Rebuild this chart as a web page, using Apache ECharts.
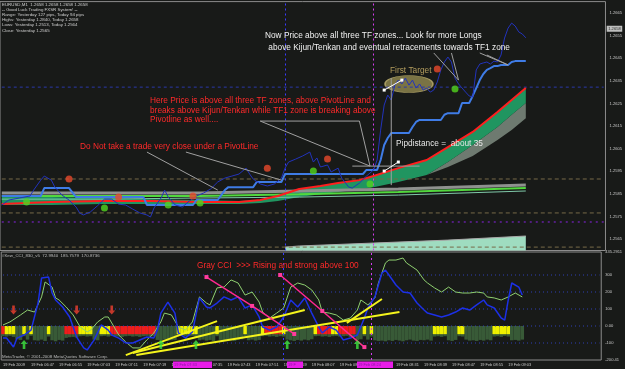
<!DOCTYPE html>
<html><head><meta charset="utf-8">
<script src="https://cdn.jsdelivr.net/npm/echarts@6/dist/echarts.min.js"></script>
<style>html,body{margin:0;padding:0;background:#181a18;}#c{width:625px;height:369px;}</style>
</head><body><div id="c"></div>
<script>
const FONT = '"Liberation Sans", Arial, sans-serif';

// ---------- categories (M1 bars from 06:39) ----------
const firstBar = '06:39';
const barCount = 171;
const categories = [];
(function(){const p=firstBar.split(':');let m=+p[0]*60+ +p[1];for(let k=0;k<barCount;k++,m++){categories.push(String(Math.floor(m/60)).padStart(2,'0')+':'+String(m%60).padStart(2,'0'));}})();
const firstTickLabel = '19 Feb 2009';
const tickPrefix = '19 Feb ';

// ---------- top panel (price) ----------
const priceLine = [[0,1.25801],[2,1.25823],[5,1.25832],[8,1.25841],[9,1.25867],[11,1.25911],[12,1.25929],[14,1.25911],[15,1.2588],[17,1.25845],[19,1.25823],[21,1.25792],[22,1.25766],[23,1.25757],[25,1.2577],[27,1.25797],[29,1.25827],[31,1.25827],[33,1.25805],[35,1.25801],[37,1.25783],[39,1.25766],[41,1.25757],[42,1.25748],[43,1.25788],[45,1.25832],[46,1.25867],[47,1.25836],[49,1.25801],[51,1.25792],[53,1.25819],[55,1.25841],[57,1.25854],[59,1.25872],[61,1.25903],[63,1.2592],[65,1.25929],[67,1.25938],[69,1.25964],[70,1.25938],[71,1.25916],[73,1.25894],[75,1.25885],[77,1.25894],[79,1.2592],[80,1.25964],[81,1.25991],[83,1.26004],[85,1.26018],[87,1.26035],[88,1.25991],[89,1.26009],[90,1.25969],[92,1.25978],[93,1.25947],[95,1.25964],[96,1.2592],[98,1.2588],[99,1.25876],[101,1.25898],[103,1.25929],[105,1.25956],[106,1.26],[107,1.26132],[108,1.26243],[109,1.26287],[110,1.26265],[111,1.26331],[112,1.26353],[113,1.26336],[114,1.26362],[115,1.26331],[116,1.26353],[117,1.26318],[118,1.26336],[119,1.26309],[120,1.26318],[121,1.263],[122,1.26309],[123,1.26345],[124,1.26398],[125,1.26433],[126,1.26455],[127,1.26433],[128,1.26362],[129,1.26336],[130,1.26318],[131,1.263],[132,1.26283],[133,1.26278],[134,1.26398],[135,1.26424],[136,1.26429],[137,1.26433],[138,1.26424],[139,1.26437],[140,1.26433],[141,1.26464],[142,1.26539],[143,1.26583],[144,1.26605],[145,1.26592],[146,1.26566],[147,1.26557],[148,1.2654]];
const kijunLine = [[0,1.25841],[11,1.25841],[12,1.25876],[19,1.25876],[21,1.25836],[40,1.25836],[41,1.25801],[54,1.25801],[55,1.25823],[61,1.25823],[63,1.25867],[64,1.2588],[71,1.2588],[72,1.25903],[79,1.25903],[80,1.25938],[102,1.25938],[103,1.25956],[106,1.25956],[107,1.26],[108,1.26066],[109,1.26097],[110,1.26119],[115,1.26119],[116,1.26146],[117,1.26168],[118,1.26177],[124,1.26177],[125,1.262],[126,1.26207],[129,1.26207],[130,1.26252],[132,1.26252],[133,1.26283],[134,1.26318],[135,1.26353],[136,1.2638],[137,1.26398],[138,1.26406],[139,1.26415],[140,1.26415],[141,1.2642],[143,1.2642],[144,1.26433],[145,1.26437],[148,1.26437]];
const redLine = [[0,1.25805],[14,1.25814],[28,1.25819],[42,1.25819],[56,1.25814],[67,1.25814],[73,1.25823],[78,1.25841],[84,1.25872],[90,1.25885],[95,1.25898],[101,1.25911],[105,1.25929],[112,1.25964],[120,1.26],[126,1.26057],[133,1.26124],[140,1.26212],[144,1.26265],[148,1.26318]];
const cloudIdx = [0,14,28,42,56,67,73,78,84,90,95,101,105,112,120,126,133,140,144,148];
const cloudTop = [1.25836,1.25836,1.25832,1.25827,1.25823,1.25819,1.25823,1.25841,1.25872,1.25885,1.25898,1.25911,1.25929,1.25964,1.26,1.26057,1.26124,1.26212,1.26265,1.26318];
const cloudMid = [1.25801,1.25801,1.25805,1.25805,1.25805,1.25805,1.2581,1.25819,1.25836,1.25849,1.25858,1.25872,1.2588,1.25903,1.25934,1.25991,1.26066,1.26146,1.262,1.26252];
const cloudBot = [1.25801,1.25801,1.25805,1.25805,1.25805,1.25805,1.2581,1.25819,1.25836,1.25849,1.25858,1.25872,1.2588,1.25903,1.25934,1.25969,1.26018,1.26088,1.26132,1.26185];
const bundleIdx = [0,28,56,84,112,148];
const bundleGray = [1.25854,1.25854,1.25854,1.25863,1.25872,1.25889];
const bundleGreen = [1.25841,1.25841,1.25841,1.25849,1.25858,1.25876];
const bundleTeal = [1.25827,1.25827,1.25832,1.25836,1.25845,1.25863];
const mintLine = [[80,1.25615],[84,1.2562],[105,1.25633],[126,1.25646],[148,1.25664]];
const redDots = [[19,1.25916],[33,1.25836],[54,1.25841],[75,1.25964],[92,1.26004],[123,1.26402]];
const greenDots = [[7,1.25814],[29,1.25788],[47,1.25801],[56,1.2581],[88,1.25951],[104,1.25894],[128,1.26314]];
const targetEllipse = [[115,1.26336]];
const oliveLevels = [1.25916,1.25766,1.25615];
const navyLevel = 1.26322;
const purpleLevel = 1.25726;
const lastPrice = 1.2658;
const noteLines = [
  [[73,1.26172],[101,1.26172],[104,1.25973]],
  [[73,1.26172],[104,1.25973]],
  [[41,1.26035],[61,1.25867]],
  [[52,1.26035],[79,1.25911]],
  [[122,1.26473],[129,1.26353]],
  [[127,1.26473],[129,1.26353]],
  [[135,1.26473],[143,1.2642]],
  [[137,1.26464],[143,1.2642]],
  [[110,1.26362],[110,1.25889]],
  [[99,1.25973],[118,1.25973]]
];
const measureLines = [[[108,1.25951],[112,1.25991]],[[108,1.26309],[113,1.26353]]];
const vLineBlue = 80, vLineMagenta = 105;

// ---------- bottom panel (CCI) ----------
const cciGray = [[0,6],[2,24],[5,65],[7,94],[9,82],[11,171],[12,259],[14,229],[15,165],[16,153],[18,112],[20,65],[22,-6],[24,-35],[25,-24],[27,24],[29,53],[30,53],[31,18],[33,-53],[35,-94],[37,-129],[39,-129],[41,-82],[43,-41],[45,24],[46,76],[48,65],[50,-6],[52,-24],[54,24],[56,171],[58,135],[59,124],[61,224],[63,229],[65,271],[67,253],[69,182],[71,200],[73,141],[74,82],[76,47],[78,76],[80,106],[82,229],[84,253],[86,241],[88,212],[90,153],[91,82],[93,76],[95,65],[97,35],[99,47],[101,94],[102,153],[104,124],[106,165],[107,253],[109,371],[110,388],[112,388],[114,400],[115,371],[118,329],[120,271],[121,253],[123,224],[125,200],[127,229],[129,200],[131,194],[133,194],[135,200],[137,194],[138,171],[140,165],[142,153],[144,171],[146,194],[148,171]];
const cciBlue = [[0,-71],[1,-71],[3,-124],[4,-71],[6,-53],[8,-24],[10,135],[11,282],[13,288],[14,194],[15,153],[17,112],[19,53],[21,-65],[23,-129],[24,-141],[26,-82],[28,6],[30,-24],[31,-53],[33,-71],[35,-100],[37,-100],[39,-82],[41,-65],[43,-71],[44,-24],[45,76],[47,141],[49,76],[50,-41],[52,-71],[54,-35],[56,165],[58,112],[59,106],[61,135],[63,171],[65,153],[67,171],[69,106],[71,124],[73,53],[74,-6],[76,-24],[78,-6],[80,53],[82,153],[84,112],[86,165],[88,76],[90,-6],[91,-41],[93,-6],[95,-24],[97,-82],[99,-71],[101,-53],[103,47],[104,106],[106,171],[108,312],[109,329],[110,300],[112,241],[114,200],[116,194],[118,135],[120,94],[121,76],[123,65],[125,53],[127,65],[129,82],[131,106],[133,94],[135,124],[137,153],[138,124],[140,106],[142,47],[143,35],[144,153],[145,253],[147,229],[148,182]];
const histColors = 'RYYYGGYGYGGGGYGGGGRRRRYYYYGGYYYRRRRRRRRRRRRRGGGGGGYYYYYYGGGGGYGGGGGGGYGGGGYRRRRRYGGGGGGGGYRRRRYYRRRRRGGYGYGGGGGGGGGGGGGGGGGYYYYGGGYYGGGGGGGGYYYYYGGGG';
const histDepth = [-60,-62,-58,-64,-78,-82,-60,-80,-58,-84,-86,-80,-88,-62,-84,-90,-82,-86,-70,-66,-64,-68,-60,-58,-62,-60,-80,-84,-60,-58,-62,-58,-60,-62,-64,-60,-58,-62,-60,-64,-60,-58,-62,-60,-82,-86,-80,-88,-84,-82,-60,-58,-62,-60,-58,-64,-84,-80,-86,-82,-88,-60,-82,-86,-80,-84,-88,-82,-78,-60,-84,-80,-86,-82,-60,-58,-62,-60,-64,-60,-62,-80,-84,-88,-82,-86,-80,-84,-78,-60,-58,-62,-60,-64,-60,-58,-62,-60,-58,-64,-60,-82,-78,-60,-80,-62,-84,-88,-86,-90,-84,-88,-82,-86,-90,-84,-80,-86,-88,-82,-84,-80,-86,-62,-60,-64,-60,-84,-88,-82,-60,-62,-80,-86,-84,-88,-82,-86,-80,-84,-62,-60,-64,-58,-62,-84,-82,-86,-80];
const colorBandDepth = -48;
const downArrows = [[3,94],[21,94],[31,94]];
const upArrows = [[6,-109],[45,-109],[55,-109],[81,-109],[101,-109]];
const pinkLines = [[[58,288],[71,118],[83,-47]],[[79,300],[91,88],[103,-124]]];
const yellowLines = [[[35,-171],[61,29]],[[37,-159],[86,94]],[[38,-171],[113,82]],[[98,18],[108,159]]];
const cciLevels = [300,200,100,0,-100];
const cciTopLabel = '435.2911';
const cciBottomLabel = '-200.41';

// ---------- build ----------
const lastIdx = barCount - 1;
const zip = (idx, vals) => idx.map((i,k)=>[i, vals[k]]);
const hLine = v => [[0, v], [lastIdx, v]];
const axisTextColor = '#c8c8c8';
const series = [];
const TOPG = {xAxisIndex:0, yAxisIndex:0};
const BOTG = {xAxisIndex:1, yAxisIndex:1};

series.push({type:'line', ...TOPG, data:mintLine, symbol:'none', z:1,
  lineStyle:{color:'#a9a9a9', width:1}, areaStyle:{color:'#9fdcc0', opacity:1, origin:'start'},
  markLine:{silent:true, symbol:'none', label:{show:false}, data:[
    {xAxis:categories[vLineBlue], lineStyle:{color:'#3a3aff', type:[2,3], width:1}},
    {xAxis:categories[vLineMagenta], lineStyle:{color:'#d43cf0', type:[2,3], width:1}}
  ]}});
series.push({type:'line', ...TOPG, stack:'cloud', symbol:'none', z:2, data:zip(cloudIdx,cloudBot), lineStyle:{width:0}});
series.push({type:'line', ...TOPG, stack:'cloud', symbol:'none', z:2, data:zip(cloudIdx,cloudMid.map((v,k)=>v-cloudBot[k])), lineStyle:{width:0}, areaStyle:{color:'#6e7a70', opacity:1}});
series.push({type:'line', ...TOPG, stack:'cloud', symbol:'none', z:2, data:zip(cloudIdx,cloudTop.map((v,k)=>v-cloudMid[k])), lineStyle:{width:0}, areaStyle:{color:'#209560', opacity:1}});
series.push({type:'line', ...TOPG, symbol:'none', z:3, data:zip(bundleIdx,bundleGray), lineStyle:{color:'#8f918f', width:3}});
series.push({type:'line', ...TOPG, symbol:'none', z:3, data:zip(bundleIdx,bundleGreen), lineStyle:{color:'#52d83e', width:2}});
series.push({type:'line', ...TOPG, symbol:'none', z:3, data:zip(bundleIdx,bundleTeal), lineStyle:{color:'#7fc9a8', width:1}});
series.push({type:'scatter', ...TOPG, data:targetEllipse, symbol:'circle', symbolSize:[48,17], z:3,
  itemStyle:{color:'#948a50', borderColor:'#b9ab6c', borderWidth:1}});
oliveLevels.forEach(v=>series.push({type:'line', ...TOPG, symbol:'none', z:4, data:hLine(v), lineStyle:{color:'#776a48', type:[4,3], width:1}}));
series.push({type:'line', ...TOPG, symbol:'none', z:4, data:hLine(navyLevel), lineStyle:{color:'#2a38a8', type:[3,3], width:1}});
series.push({type:'line', ...TOPG, symbol:'none', z:4, data:hLine(purpleLevel), lineStyle:{color:'#8a24e6', type:[2,4], width:1}});
series.push({type:'line', ...TOPG, symbol:'none', z:5, data:redLine, lineStyle:{color:'#ff1e1e', width:2}});
series.push({type:'line', ...TOPG, symbol:'none', z:5, data:kijunLine, lineStyle:{color:'#3f7ce6', width:2}});
series.push({type:'line', ...TOPG, symbol:'none', z:6, data:priceLine, lineStyle:{color:'#2233bc', width:1}});
series.push({type:'scatter', ...TOPG, data:[[lastIdx, lastPrice]], symbolSize:0, z:9, clip:false,
  label:{show:true, position:'right', distance:3, formatter:lastPrice.toFixed(4), backgroundColor:'#e8e8e8', color:'#000', fontSize:4.1, fontFamily:FONT, padding:[1,1.5]}});
noteLines.forEach(pts=>series.push({type:'line', ...TOPG, symbol:'none', z:7, data:pts, lineStyle:{color:'#a0a0a0', width:1}}));
measureLines.forEach(pts=>series.push({type:'line', ...TOPG, symbol:'rect', symbolSize:3, showAllSymbol:true, z:7, data:pts, itemStyle:{color:'#ffffff'}, lineStyle:{color:'#ffffff', width:1}}));
series.push({type:'scatter', ...TOPG, data:redDots, symbolSize:7, z:8, itemStyle:{color:'#e8482c'}});
series.push({type:'scatter', ...TOPG, data:greenDots, symbolSize:7, z:8, itemStyle:{color:'#52d41e'}});

// bottom
series.push({type:'bar', ...BOTG, data:histDepth, barCategoryGap:'0%', barGap:'-100%', z:1, itemStyle:{color:'#385a37'},
  markLine:{silent:true, symbol:'none', label:{show:false}, data:[
    {xAxis:categories[vLineBlue], lineStyle:{color:'#3a3aff', type:[2,3], width:1}},
    {xAxis:categories[vLineMagenta], lineStyle:{color:'#d43cf0', type:[2,3], width:1}}
  ]}});
series.push({type:'bar', ...BOTG, barCategoryGap:'0%', barGap:'-100%', z:2,
  data:histColors.split('').map(c=> c==='G' ? '-' : {value:colorBandDepth, itemStyle:{color: c==='Y' ? '#eef000' : '#f01c1c'}})});
cciLevels.forEach(v=>series.push({type:'line', ...BOTG, symbol:'none', z:2, data:hLine(v), lineStyle:{color:'#3040b8', type:[1,3], width:1}}));
series.push({type:'line', ...BOTG, symbol:'none', z:3, data:cciGray, lineStyle:{color:'#8fd070', width:1}});
series.push({type:'line', ...BOTG, symbol:'none', z:4, data:cciBlue, lineStyle:{color:'#1c30e6', width:1.5}});
yellowLines.forEach(pts=>series.push({type:'line', ...BOTG, symbol:'none', z:5, data:pts, lineStyle:{color:'#f4f41c', width:2}}));
pinkLines.forEach(pts=>series.push({type:'line', ...BOTG, symbol:'rect', symbolSize:4, showAllSymbol:true, z:6, data:pts, itemStyle:{color:'#ff3c9c'}, lineStyle:{color:'#ff2890', width:1.5}}));
const arrowPath = 'path://M4,0 L8,4 L5.5,4 L5.5,9 L2.5,9 L2.5,4 L0,4 Z';
series.push({type:'scatter', ...BOTG, data:upArrows, symbol:arrowPath, symbolSize:[7,9], z:7, itemStyle:{color:'#3ee63e'}});
series.push({type:'scatter', ...BOTG, data:downArrows, symbol:arrowPath, symbolRotate:180, symbolSize:[7,9], z:7, itemStyle:{color:'#f04030'}});

const NS = 8.3;
const notes = [
  {t:'EURUSD,M1  1.2658 1.2658 1.2658 1.2658', x:2, y:4.7, c:'#cfcfcf', s:4.4},
  {t:'-- Good Luck Trading FXSR System! --', x:2, y:9.5, c:'#cfcfcf', s:4.4},
  {t:'Range: Yesterday 127 pips, Today 94 pips', x:2, y:14.7, c:'#cfcfcf', s:4.4},
  {t:'Highs: Yesterday 1.2840, Today 1.2658', x:2, y:19.8, c:'#cfcfcf', s:4.4},
  {t:'Lows: Yesterday 1.2513, Today 1.2564', x:2, y:25, c:'#cfcfcf', s:4.4},
  {t:'Close: Yesterday 1.2565', x:2, y:30.3, c:'#cfcfcf', s:4.4},
  {t:'Now Price above all three TF zones... Look for more Longs', x:265, y:36, c:'#f2f2f2', s:NS},
  {t:' above Kijun/Tenkan and eventual retracements towards TF1 zone', x:266, y:48, c:'#f2f2f2', s:NS},
  {t:'First Target', x:390, y:71, c:'#b39d5e', s:NS},
  {t:'Here Price is above all three TF zones, above PivotLine and', x:150, y:101, c:'#ff2a2a', s:NS},
  {t:'breaks above Kijun/Tenkan while TF1 zone is breaking above', x:150, y:111, c:'#ff2a2a', s:NS},
  {t:'Pivotline as well....', x:150, y:120, c:'#ff2a2a', s:NS},
  {t:'Do Not take a trade very close under a PivotLine', x:80, y:147, c:'#ff2a2a', s:NS},
  {t:'Pipdistance =  about 35', x:396, y:144, c:'#e6e6e6', s:NS},
  {t:'Gray CCI  >>> Rising and strong above 100', x:197, y:266, c:'#ff2a2a', s:NS},
  {t:'#Kew_CCI_830_v5  72.9940  185.7579  170.8736', x:2, y:256, c:'#bdbdbd', s:4.4},
  {t:'MetaTrader, \u00a9 2001-2008 MetaQuotes Software Corp.', x:2, y:357, c:'#bdbdbd', s:4.4}
];
const markerBoxes = [[173,212,'19 Feb 07:33'],[287,303,'19 F'],[357,393,'19 Feb 08:24']];
const graphic = notes.map(n=>({type:'text', x:n.x, y:n.y, z:50, silent:true,
  style:{text:n.t, fill:n.c, font:n.s+'px '+FONT, verticalAlign:'middle', align:'left'}}));
markerBoxes.forEach(b=>{
  graphic.push({type:'rect', shape:{x:b[0], y:361.5, width:b[1]-b[0], height:6.5}, style:{fill:'#e81ce8'}, z:60, silent:true});
  graphic.push({type:'text', x:b[0]+1, y:364.8, z:61, silent:true, style:{text:b[2], fill:'#8a1aa0', font:'3.9px '+FONT, verticalAlign:'middle', align:'left'}});
});

const option = {
  backgroundColor:'#181a18',
  animation:false,
  grid:[
    {left:0, right:17, top:1.6, height:248.9, show:true, borderColor:'#8c8c8c', borderWidth:1},
    {left:0, right:17, top:252, height:108, show:true, borderColor:'#8c8c8c', borderWidth:1}
  ],
  xAxis:[
    {type:'category', gridIndex:0, data:categories, boundaryGap:true, axisLine:{show:false}, axisTick:{show:false}, axisLabel:{show:false}, splitLine:{show:false}},
    {type:'category', gridIndex:1, data:categories, boundaryGap:true, axisLine:{show:false}, axisTick:{show:false}, splitLine:{show:false},
      axisLabel:{show:true, interval:(i)=> i%8===0 && i<=148, formatter:(v,i)=> i===0 ? firstTickLabel : tickPrefix+v,
        color:axisTextColor, fontSize:3.9, fontFamily:FONT, align:'left', margin:3}}
  ],
  yAxis:[
    {type:'value', gridIndex:0, position:'right', min:1.2560, max:1.2670, interval:0.0005,
      splitLine:{show:false}, axisLine:{show:false}, axisTick:{show:false},
      axisLabel:{formatter:v=> (Math.round(v*10000)%10===5) ? v.toFixed(4) : '', color:axisTextColor, fontSize:4.1, fontFamily:FONT, margin:4}},
    {type:'value', gridIndex:1, position:'right', min:-200, max:435.3, interval:100,
      splitLine:{show:false}, axisLine:{show:false}, axisTick:{show:false},
      axisLabel:{formatter:v=> v>400 ? cciTopLabel : (v===400 ? '' : (v===-200 ? cciBottomLabel : (v===0 ? '0.00' : String(v)))),
        color:axisTextColor, fontSize:4.1, fontFamily:FONT, margin:4}}
  ],
  series:series,
  graphic:graphic
};
const chart = echarts.init(document.getElementById('c'), null, {renderer:'canvas', width:625, height:369});
chart.setOption(option);
</script></body></html>
